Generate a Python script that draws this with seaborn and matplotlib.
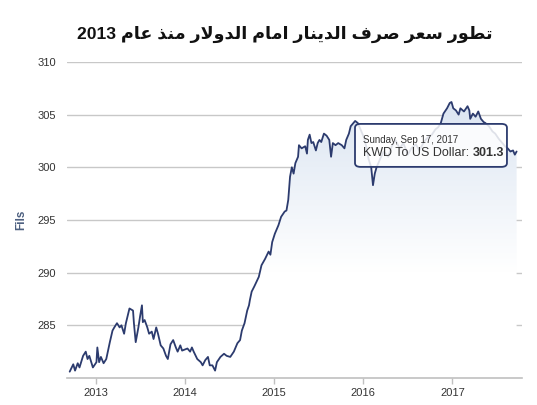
import numpy as np
import pandas as pd
import matplotlib.pyplot as plt
import seaborn as sns
from matplotlib.patches import FancyBboxPatch
from matplotlib.colors import LinearSegmentedColormap

# readings (decimal year, fils per dollar)
year_pos = [2012.71, 2012.75, 2012.77, 2012.80, 2012.82, 2012.86, 2012.89, 2012.91, 2012.93, 2012.97,
            2013.01, 2013.02, 2013.04, 2013.06, 2013.09, 2013.12, 2013.16, 2013.19, 2013.21, 2013.24,
            2013.27, 2013.29, 2013.32, 2013.34, 2013.36, 2013.38, 2013.42, 2013.43, 2013.45, 2013.48,
            2013.50, 2013.52, 2013.53, 2013.55, 2013.58, 2013.60, 2013.63, 2013.65, 2013.68, 2013.70,
            2013.73, 2013.76, 2013.79, 2013.81, 2013.84, 2013.87, 2013.90, 2013.92, 2013.95, 2013.97,
            2014.03, 2014.06, 2014.08, 2014.10, 2014.14, 2014.18, 2014.20, 2014.23, 2014.26, 2014.28,
            2014.31, 2014.34, 2014.36, 2014.40, 2014.44, 2014.47, 2014.51, 2014.55, 2014.59, 2014.62,
            2014.64, 2014.67, 2014.70, 2014.72, 2014.73, 2014.75, 2014.78, 2014.83, 2014.86, 2014.90,
            2014.94, 2014.96, 2014.98, 2015.01, 2015.05, 2015.08, 2015.12, 2015.14, 2015.16, 2015.18,
            2015.20, 2015.22, 2015.24, 2015.27, 2015.28, 2015.31, 2015.35, 2015.37, 2015.38, 2015.40,
            2015.42, 2015.44, 2015.47, 2015.49, 2015.51, 2015.53, 2015.56, 2015.59, 2015.62, 2015.64,
            2015.66, 2015.69, 2015.72, 2015.76, 2015.79, 2015.81, 2015.84, 2015.86, 2015.89, 2015.91,
            2015.94, 2015.97, 2016.01, 2016.04, 2016.06, 2016.09, 2016.11, 2016.13, 2016.15, 2016.19,
            2016.23, 2016.28, 2016.32, 2016.36, 2016.41, 2016.45, 2016.50, 2016.54, 2016.59, 2016.63,
            2016.68, 2016.72, 2016.77, 2016.81, 2016.84, 2016.87, 2016.90, 2016.94, 2016.97, 2016.99,
            2017.01, 2017.04, 2017.07, 2017.09, 2017.13, 2017.17, 2017.19, 2017.20, 2017.23, 2017.26,
            2017.29, 2017.32, 2017.35, 2017.37, 2017.41, 2017.45, 2017.48, 2017.52, 2017.56, 2017.59,
            2017.62, 2017.65, 2017.68, 2017.70, 2017.72]
fils = [280.6, 281.3, 280.7, 281.4, 281.0, 282.1, 282.5, 281.8, 282.1, 281.0,
        281.5, 282.9, 281.5, 282.0, 281.4, 281.8, 283.4, 284.5, 284.8, 285.2,
        284.8, 285.0, 284.2, 285.2, 285.9, 286.6, 286.4, 285.2, 283.4, 284.8,
        285.9, 286.9, 285.3, 285.5, 284.8, 284.2, 284.4, 283.7, 284.8, 284.2,
        283.1, 282.8, 282.1, 281.8, 283.2, 283.6, 282.9, 282.5, 283.1, 282.6,
        282.8, 282.5, 282.9, 282.5, 281.8, 281.5, 281.2, 281.7, 282.0, 281.2,
        281.2, 280.7, 281.5, 282.0, 282.3, 282.1, 282.0, 282.5, 283.3, 283.6,
        284.5, 285.2, 286.4, 286.9, 287.4, 288.2, 288.7, 289.6, 290.7, 291.3,
        292.0, 291.7, 292.9, 293.7, 294.5, 295.3, 295.8, 295.9, 296.9, 299.1,
        300.0, 299.4, 300.4, 301.0, 302.1, 301.8, 302.0, 301.3, 302.6, 303.1,
        302.3, 302.4, 301.6, 302.3, 302.6, 302.4, 303.2, 303.0, 302.6, 301.0,
        302.3, 302.1, 302.3, 302.1, 301.8, 302.6, 303.2, 303.9, 304.2, 304.4,
        304.2, 303.6, 302.8, 301.8, 300.8, 300.0, 298.3, 299.4, 300.0, 300.8,
        301.5, 301.0, 302.0, 302.6, 301.8, 302.3, 301.2, 301.8, 302.2, 301.6,
        302.4, 302.8, 303.1, 303.6, 303.8, 304.2, 305.1, 305.6, 306.1, 306.2,
        305.6, 305.4, 305.0, 305.6, 305.3, 305.8, 305.4, 304.6, 305.1, 304.8,
        305.3, 304.6, 304.3, 304.2, 303.9, 303.4, 303.2, 302.7, 302.3, 302.0,
        301.8, 301.5, 301.6, 301.2, 301.5]
year_ticks = [2013, 2014, 2015, 2016, 2017]
fils_ticks = [285, 290, 295, 300, 305, 310]

title = 'تطور سعر صرف الدينار امام الدولار منذ عام 2013'
tip_date = 'Sunday, Sep 17, 2017'
tip_label = 'KWD To US Dollar: '
tip_value = '301.3'

# matplotlib has no arabic shaping, so pick presentation forms by hand
FORMS = {
    'ا': ('\ufe8d', '\ufe8e', None, None),
    'د': ('\ufea9', '\ufeaa', None, None),
    'ذ': ('\ufeab', '\ufeac', None, None),
    'ر': ('\ufead', '\ufeae', None, None),
    'و': ('\ufeed', '\ufeee', None, None),
    'ت': ('\ufe95', '\ufe96', '\ufe97', '\ufe98'),
    'س': ('\ufeb1', '\ufeb2', '\ufeb3', '\ufeb4'),
    'ص': ('\ufeb9', '\ufeba', '\ufebb', '\ufebc'),
    'ط': ('\ufec1', '\ufec2', '\ufec3', '\ufec4'),
    'ع': ('\ufec9', '\ufeca', '\ufecb', '\ufecc'),
    'ف': ('\ufed1', '\ufed2', '\ufed3', '\ufed4'),
    'ل': ('\ufedd', '\ufede', '\ufedf', '\ufee0'),
    'م': ('\ufee1', '\ufee2', '\ufee3', '\ufee4'),
    'ن': ('\ufee5', '\ufee6', '\ufee7', '\ufee8'),
    'ي': ('\ufef1', '\ufef2', '\ufef3', '\ufef4'),
}


def shape_word(word):
    chars = list(word)
    out = []
    i = 0
    while i < len(chars):
        c = chars[i]
        prev = chars[i - 1] if i > 0 else None
        joins_prev = prev in FORMS and FORMS[prev][2] is not None
        if c == 'ل' and i + 1 < len(chars) and chars[i + 1] == 'ا':
            out.append('\ufefc' if joins_prev else '\ufefb')
            i += 2
            continue
        nxt = chars[i + 1] if i + 1 < len(chars) else None
        joins_next = nxt in FORMS and FORMS[c][2] is not None
        f = FORMS[c]
        if joins_prev and joins_next:
            out.append(f[3])
        elif joins_prev:
            out.append(f[1])
        elif joins_next:
            out.append(f[2])
        else:
            out.append(f[0])
        i += 1
    return ''.join(reversed(out))


def visual(text):
    words = []
    for w in text.split(' '):
        if w and w[0] in FORMS:
            words.append(shape_word(w))
        else:
            words.append(w)
    return ' '.join(reversed(words))


sns.set_theme(style='white')
plt.rcParams['font.family'] = ['Liberation Sans', 'DejaVu Sans']

df = pd.DataFrame({'year': year_pos, 'fils': fils})

fig = plt.figure(figsize=(5.37, 4.05), dpi=100)
ax = fig.add_axes([0.1248, 0.0667, 0.8472, 0.7803])

sns.lineplot(data=df, x='year', y='fils', ax=ax, color='#2c3b6e', linewidth=1.3)

ax.set_xlim(2012.68, 2017.78)
ax.set_ylim(280, 310)

# gradient fill under the line, fading out towards the bottom
poly = ax.fill_between(df['year'], df['fils'], 280, color='none', lw=0)
fade = LinearSegmentedColormap.from_list('fade', ['#ffffff', '#ffffff', '#e9eff7', '#d3deee'])
grad = np.linspace(1, 0, 256).reshape(-1, 1)
im = ax.imshow(grad, extent=[2012.68, 2017.78, 280, 310], aspect='auto', origin='upper',
               cmap=fade, vmin=0, vmax=1, zorder=1)
im.set_clip_path(poly.get_paths()[0], transform=ax.transData)

ax.set_yticks(fils_ticks)
ax.set_xticks(year_ticks)
ax.set_xticklabels([str(y) for y in year_ticks])
ax.grid(axis='y', color='#c8c8c8', linewidth=1)
ax.set_axisbelow(True)
for s in ['top', 'right', 'left']:
    ax.spines[s].set_visible(False)
ax.spines['bottom'].set_color('#c0c0c0')
ax.spines['bottom'].set_linewidth(1.2)
ax.tick_params(axis='y', length=0, labelsize=8, labelcolor='#333333', pad=8)
ax.tick_params(axis='x', length=4, width=1, color='#c0c0c0', labelsize=8, labelcolor='#333333',
               pad=3, bottom=True)
ax.set_xlabel('')
ax.set_ylabel('Fils', fontsize=8.5, color='#4d6080', fontweight='bold', labelpad=7)

fig.text(0.531, 0.914, visual(title), ha='center', va='center', fontsize=12.6, fontweight='bold',
         color='#111111', family=['Liberation Sans', 'DejaVu Sans'])

# tooltip
box = FancyBboxPatch((0.633, 0.668), 0.334, 0.136, boxstyle='round,pad=0,rounding_size=0.012',
                     transform=ax.transAxes, facecolor='white', alpha=0.85, edgecolor='none', zorder=5)
ax.add_patch(box)
frame = FancyBboxPatch((0.633, 0.668), 0.334, 0.136, boxstyle='round,pad=0,rounding_size=0.012',
                       transform=ax.transAxes, facecolor='none', edgecolor='#2c3b6e', linewidth=1.3, zorder=6)
ax.add_patch(frame)
ax.text(0.651, 0.753, tip_date, transform=ax.transAxes, fontsize=7, color='#333333',
        va='center', ha='left', zorder=7)
t1 = ax.text(0.651, 0.711, tip_label, transform=ax.transAxes, fontsize=9, color='#333333',
             va='center', ha='left', zorder=7)
ax.annotate(tip_value, xy=(1, 0), xycoords=t1, va='bottom', ha='left', fontsize=9,
            fontweight='bold', color='#333333', zorder=7)

fig.savefig('out.png', dpi=100)
